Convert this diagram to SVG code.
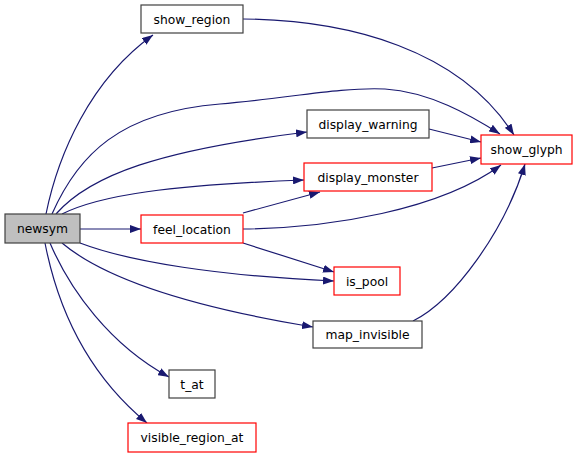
<svg xmlns="http://www.w3.org/2000/svg" width="581" height="457" viewBox="0 0 581 457">
<style>
.n rect{fill:#fff;stroke:#404040;stroke-width:1.2}
.n.r rect{stroke:#ff0000}
.n.cur rect{fill:#bfbfbf}
.n text{font-family:"DejaVu Sans",sans-serif;font-size:12.3px;fill:#000;text-anchor:middle}
.e path{fill:none;stroke:#191970;stroke-width:1.2;marker-end:url(#ah)}
</style>
<defs>
<marker id="ah" viewBox="0 0 11 8" refX="11" refY="4" markerWidth="11" markerHeight="8" markerUnits="userSpaceOnUse" orient="auto">
<polygon points="0,0 11,4 0,8" fill="#191970"/>
</marker>
</defs>
<rect width="581" height="457" fill="#fff"/>
<g id="edges" class="e">
<path d="M46,214 C58,155 90,80 153,35"/>
<path d="M52,214 C78,155 120,112 220,104 C290,98 340,87 385,89 C430,92 470,115 500,134"/>
<path d="M56,214 C90,175 160,150 307,132"/>
<path d="M62,214 C100,195 170,185 304,180"/>
<path d="M80,229 L141,229"/>
<path d="M80,243 C130,262 220,276 334,281"/>
<path d="M62,243 C100,275 180,305 313,327"/>
<path d="M50,243 C70,290 110,345 169,377"/>
<path d="M45,243 C60,320 95,380 147,423"/>
<path d="M243,19 C350,20 460,50 514,135"/>
<path d="M429,129 L481,142"/>
<path d="M432,168 L481,158"/>
<path d="M243,229 C330,228 440,210 501,165"/>
<path d="M243,213 L320,192"/>
<path d="M243,243 L334,272"/>
<path d="M413,321 C455,300 505,230 525,164"/>
</g>
<g id="newsym" class="n cur"><rect x="5" y="214" width="75" height="29"/><text x="42.5" y="233">newsym</text></g>
<g id="show_region" class="n"><rect x="141" y="5" width="102" height="28"/><text x="192" y="23.5">show_region</text></g>
<g id="display_warning" class="n"><rect x="307" y="110" width="122" height="28"/><text x="368" y="128.5">display_warning</text></g>
<g id="display_monster" class="n r"><rect x="304" y="163" width="128" height="28"/><text x="368" y="181.5">display_monster</text></g>
<g id="show_glyph" class="n r"><rect x="481" y="135" width="91" height="29"/><text x="526.5" y="154">show_glyph</text></g>
<g id="feel_location" class="n r"><rect x="141" y="215" width="102" height="28"/><text x="192" y="233.5">feel_location</text></g>
<g id="is_pool" class="n r"><rect x="334" y="267" width="66" height="28"/><text x="367" y="285.5">is_pool</text></g>
<g id="map_invisible" class="n"><rect x="313" y="321" width="109" height="27"/><text x="367.5" y="339">map_invisible</text></g>
<g id="t_at" class="n"><rect x="169" y="370" width="46" height="28"/><text x="192" y="388.5">t_at</text></g>
<g id="visible_region_at" class="n r"><rect x="128" y="423" width="128" height="29"/><text x="192" y="442">visible_region_at</text></g>
</svg>
